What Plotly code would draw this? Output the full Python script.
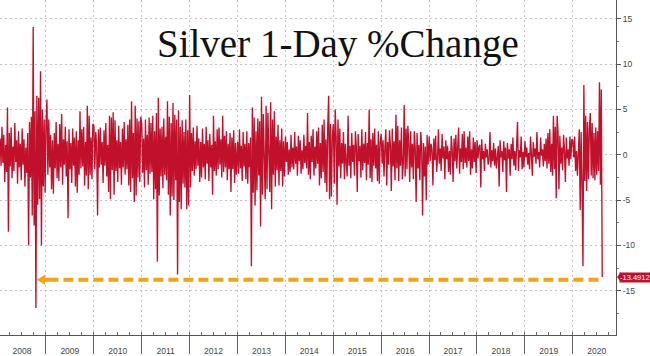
import pandas as pd
import plotly.graph_objects as go

start_2008 = "2008-01-18"
v2008 = [1.8, -1.2, 3.1, -0.9, 2.2, -3.0, 1.1, -1.9, 5.2, -8.5,
         2.4, -1.3, 3.0, -2.6, 0.9, -1.8, 3.5, -0.8, 1.6, -3.2,
         2.6, -1.4, 1.2, -2.8, 2.9, -1.1, 1.7, -3.5, 0.8, -2.0,
         2.4, -10.0, 3.6, -2.5, 4.2, -6.7, 14.1, -7.8, 4.8, -16.9,
         6.5, -5.5, 6.3, -4.9, 9.2, -10.0, 5.0, -3.5, 3.9, -4.2]
v2009 = [3.5, 6.1, -2.2, 3.9, -1.4, 2.2, -3.8, 1.6, -4.3, 2.4,
         -1.5, 3.6, -2.6, 1.2, -2.9, 3.4, -1.4, 4.5, -3.3, 1.7,
         -1.1, 3.1, -2.4, 1.5, -7.0,
         2.8, -1.6, 1.3, -3.1, 2.9, -1.2, 1.9, -3.5, 2.6, -4.2,
         1.6, -2.2, 4.8, -1.5, 2.8, -1.3, 3.1, -3.4, 1.4, -2.3,
         5.4, -3.8, 4.3, -2.2, 1.9, -2.7, 3.4]
v2010 = [3.2, -1.6, 2.5, 1.0, -6.7, 2.8, -1.4, 3.0, -1.1, 1.4,
         -3.1, 2.7, -1.2, 3.5, -2.4, 1.1, -4.1, 4.3, -4.9, 4.1,
         -1.7, 4.7, -4.4, 3.8, -1.8, 1.6, -3.0, 3.2, -1.5, 1.4,
         -3.3, 2.9, -1.4, 3.6, -2.2, 1.7, -1.6, 3.3, -3.4, 3.9,
         -4.1, 5.9, -2.6, 2.4, -5.2, 5.4, -4.5, 4.0, -2.5, 3.7,
         -3.0, 4.2]
v2011 = [3.4, -2.0, 1.8, -3.6, 3.9, -1.7, 2.2, -3.3, 4.1, -2.1,
         3.5, -1.9, 4.3, -4.9, 2.6, -3.8, 4.6, -11.8, 6.3, -4.5,
         2.9, -2.4, 3.1, -3.7, 4.0, -2.2, 2.0, -2.8, 5.9, -4.4,
         4.2, -6.7, 3.5, -4.6, 5.7, -5.0, 4.4, -2.8, 3.9, -13.2,
         4.9, -5.2, 3.1, -6.0, 3.8, -3.2, 2.5, -3.6, 3.9, -6.0,
         2.7, -5.6]
v2012 = [6.6, -3.6, 2.4, -1.8, 3.0, -2.3, 1.5, -1.6, 3.2, -1.2,
         1.8, -3.0, 1.4, -2.5, 2.9, -1.4, 1.2, -2.7, 3.1, -1.0,
         1.6, -2.9, 2.3, -1.4, 1.1, -4.4, 4.3, -1.8, 1.5, -2.3,
         2.8, -1.6, 3.0, -1.1, 1.7, -2.5, 4.3, -1.9, 2.1, -1.4,
         2.6, -2.8, 1.2, -1.6, 2.4, -4.1, 1.9, -1.6, 2.7, -3.1,
         1.3, -2.2]
v2013 = [1.4, -2.1, 2.8, -1.5, 1.0, -2.9, 2.5, -1.3, 1.2, -2.7,
         2.6, -3.2, 1.3, -1.4, 1.9, -12.3, 5.2, -4.2, 4.1, -5.6,
         2.6, -3.9, 4.0, -2.3, 3.7, -7.9, 6.4, -4.4, 4.5, -2.6,
         -4.9, 5.4, -3.8, 4.6, -2.5, -4.1, 5.8, -6.0, 3.9, -2.2,
         4.8, -3.5, 2.0, -1.7, 3.3, -3.4, 1.6, -1.8, 2.9, -3.5,
         1.5, -2.4]
v2014 = [2.0, -0.8, 1.4, -2.2, 0.6, -1.9, 2.2, -1.4, 0.8, -1.6,
         2.5, -1.0, 0.9, -2.3, 2.1, -0.7, 1.6, -2.1, 0.5, -1.6,
         2.2, -0.9, 1.0, -1.5, 4.6, -2.2, 1.4, -2.7, 2.1, -0.8,
         2.8, -2.3, 0.9, -1.5, 2.6, -1.0, 3.0, -3.4, 1.3, -2.6,
         3.3, -1.9, 3.9, -3.1, 1.7, -4.1, 3.2, 6.5, -4.9, 3.4,
         -4.6, 2.1]
v2015 = [3.4, -3.2, 5.0, 2.0, -5.5, 3.9, -1.3, 2.9, -2.6, 1.3,
         -1.0, 2.5, -2.7, 1.2, -0.9, -2.4, 4.3, -1.2, 1.0, -2.6,
         2.4, -0.8, 1.1, -2.3, 2.6, 0.9, -4.1, 2.3, -0.7, 1.0,
         -2.5, 2.8, -1.7, 1.2, -0.9, 2.5, -2.8, 1.3, -1.1, 5.0,
         -2.6, 1.7, -3.0, 2.4, -1.2, 2.9, -1.5, 1.1, -2.9, 2.6,
         -3.2, 1.4]
v2016 = [2.3, -1.0, 1.6, -2.4, 0.9, 2.8, -3.4, 1.4, -1.1, 2.7,
         1.0, -4.0, 2.9, -1.3, 1.5, -2.8, 4.4, -1.5, 3.2, -2.9,
         1.6, -1.2, 3.0, -2.7, -1.0, 5.5, -2.4, 2.9, -1.6, 3.2,
         1.1, -3.0, 2.6, -1.4, 1.2, -2.7, 2.6, 0.8, -5.2, 2.4,
         -1.5, 1.1, -2.8, 2.5, 1.0, -6.7, 1.3, -2.4, 0.9, -5.0,
         2.2, -1.1]
v2017 = [2.0, -0.7, 1.2, 0.6, -3.4, 1.8, -0.6, 2.1, -1.9, -0.5,
         2.8, -1.0, 0.7, -1.8, 2.3, -0.4, 0.9, -2.7, 1.6, -0.5,
         1.0, -1.9, 0.4, -2.2, 2.1, 0.5, -3.0, 1.8, -0.7, 2.2,
         -1.5, 0.9, 3.0, -2.1, 0.7, -0.8, 2.3, -1.6, 2.6, -0.9,
         0.8, -1.4, 2.0, -0.7, 2.6, -2.2, 0.6, -1.5, 1.9, -0.8,
         1.4, -2.0]
v2018 = [1.6, -0.4, 0.9, 1.1, -3.6, 1.7, -0.5, 0.4, -1.8, 1.2,
         -0.3, 0.6, -1.1, -0.6, 2.5, -1.4, 0.5, -0.7, 1.3, -1.2,
         0.7, -1.5, 0.2, 1.0, -3.5, 1.6, -0.3, 0.4, -1.9, 1.5,
         -0.6, 0.8, -4.1, 1.3, -0.4, 0.6, -2.3, 1.2, -0.5, 1.9,
         -1.2, 0.4, -1.7, 0.6, 3.6, -1.8, 0.5, -0.3, 2.0, -1.6,
         0.3, -1.4]
v2019 = [1.5, -0.3, 0.8, -1.1, 0.2, -1.6, 2.0, 0.1, -2.3, 1.4,
         -0.2, 0.7, -1.0, 2.5, -0.5, 0.3, -1.4, 1.9, -0.1, 0.6,
         -1.3, 1.2, -0.7, 1.8, -1.5, 2.4, -1.0, 2.8, -1.9, 1.2,
         -2.3, 4.3, -1.6, 3.1, -4.8, 4.3, 2.5, -3.8, 2.1, -1.0,
         0.8, -1.7, 2.2, 0.5, -3.0, 1.9, -0.4, 0.6, -1.2, 2.0,
         -0.5, 1.7]
v2020 = [1.6, -0.3, 2.0, -1.8, 0.4, -2.3, 1.9, 2.8, -6.1, 2.5,
         -3.4, -12.3, 7.7, -2.9, 4.3, -4.0, 3.6, -2.7, 2.9, 4.6,
         -2.3, 3.5, -2.6, 2.4, -2.8, 3.0, -2.2, 2.6, -1.8, 8.0,
         -3.3, 7.2, -13.4912]

series = [(start_2008, v2008), ("2009-01-02", v2009), ("2010-01-02", v2010),
          ("2011-01-02", v2011), ("2012-01-02", v2012), ("2013-01-02", v2013),
          ("2014-01-02", v2014), ("2015-01-02", v2015), ("2016-01-02", v2016),
          ("2017-01-02", v2017), ("2018-01-02", v2018), ("2019-01-02", v2019),
          ("2020-01-02", v2020)]

y_tickvals = [-15, -10, -5, 0, 5, 10, 15]
y_ticktext = ["-15", "-10", "-5", "0", "5", "10", "15"]
title_text = "Silver 1-Day %Change"

dates, values = [], []
for start, vals in series:
    d = pd.date_range(start, periods=len(vals), freq="7D")
    dates.extend(list(d))
    values.extend(vals)

last_date = dates[-1]
last_val = values[-1]

RED = "#C0102B"
ORANGE = "#F0A418"
SANS = "Liberation Sans Narrow, Liberation Sans, Arial, sans-serif"
TICKFONT = dict(family=SANS, size=8.5, color="#444")

fig = go.Figure()
fig.add_trace(go.Scatter(x=dates, y=values, mode="lines",
                         line=dict(color=RED, width=1.35), hoverinfo="skip",
                         showlegend=False))

# dashed orange arrow line at the last value level
arrow_y = last_val - 0.3
fig.add_shape(type="line", xref="x", yref="y",
              x0="2009-01-20", x1=last_date, y0=arrow_y, y1=arrow_y,
              line=dict(color=ORANGE, width=4, dash="10px,5px"))
fig.add_shape(type="path", xref="x", yref="y",
              xsizemode="pixel", ysizemode="pixel",
              xanchor="2008-10-24", yanchor=arrow_y,
              path="M0,0 L8,-5 L8,-2 L12,-2 L12,2 L8,2 L8,5 Z",
              fillcolor=ORANGE, line=dict(width=0))

# last value label on the right axis
fig.add_annotation(xref="paper", yref="y", x=1, y=last_val, xanchor="left",
                   xshift=3, text=f"{last_val:.4f}", showarrow=False,
                   bgcolor=RED, borderpad=0,
                   font=dict(family=SANS, size=7.5, color="white"))
fig.add_shape(type="path", xref="paper", yref="y",
              xsizemode="pixel", ysizemode="pixel",
              xanchor=1, yanchor=last_val,
              path="M1,0 L5,-5 L5,5 Z", fillcolor=RED, line=dict(width=0))

# title
fig.add_annotation(xref="paper", yref="paper", x=0.548, y=1 - 44 / 337,
                   xanchor="center", yanchor="middle", text=title_text,
                   showarrow=False,
                   font=dict(family="Liberation Serif, Times New Roman, serif",
                             size=39, color="#111"))

fig.update_layout(
    width=650, height=356,
    margin=dict(l=0, r=34, t=0, b=19),
    paper_bgcolor="white", plot_bgcolor="white",
    showlegend=False,
    xaxis=dict(type="date", range=["2008-01-17", "2020-11-26"],
               tick0="2008-01-01", dtick="M12", tickformat="%Y",
               ticklabelmode="period", ticks="outside", ticklen=18,
               tickcolor="#666", tickwidth=1, ticklabelstandoff=-10,
               showgrid=True, gridcolor="#c4c4c4", griddash="2px,3px", gridwidth=1,
               showline=True, linecolor="#555", linewidth=1, zeroline=False,
               tickfont=TICKFONT,
               minor=dict(dtick="M3", tick0="2008-01-01", ticks="inside",
                          ticklen=3, tickcolor="#666", showgrid=False)),
    yaxis=dict(side="right", range=[-19.88, 17.07],
               tickvals=y_tickvals, ticktext=y_ticktext,
               ticks="outside", ticklen=4, tickcolor="#555",
               showline=True, linecolor="#555", linewidth=1,
               showgrid=True, gridcolor="#c4c4c4", griddash="2px,3px", gridwidth=1,
               zeroline=False, tickfont=TICKFONT,
               minor=dict(dtick=2.5, tick0=0, ticks="outside", ticklen=2,
                          tickcolor="#777", showgrid=False)),
)

fig.write_html("out.html", config={"displayModeBar": False},
               post_script="document.body.style.margin='0';document.body.style.padding='0';")
